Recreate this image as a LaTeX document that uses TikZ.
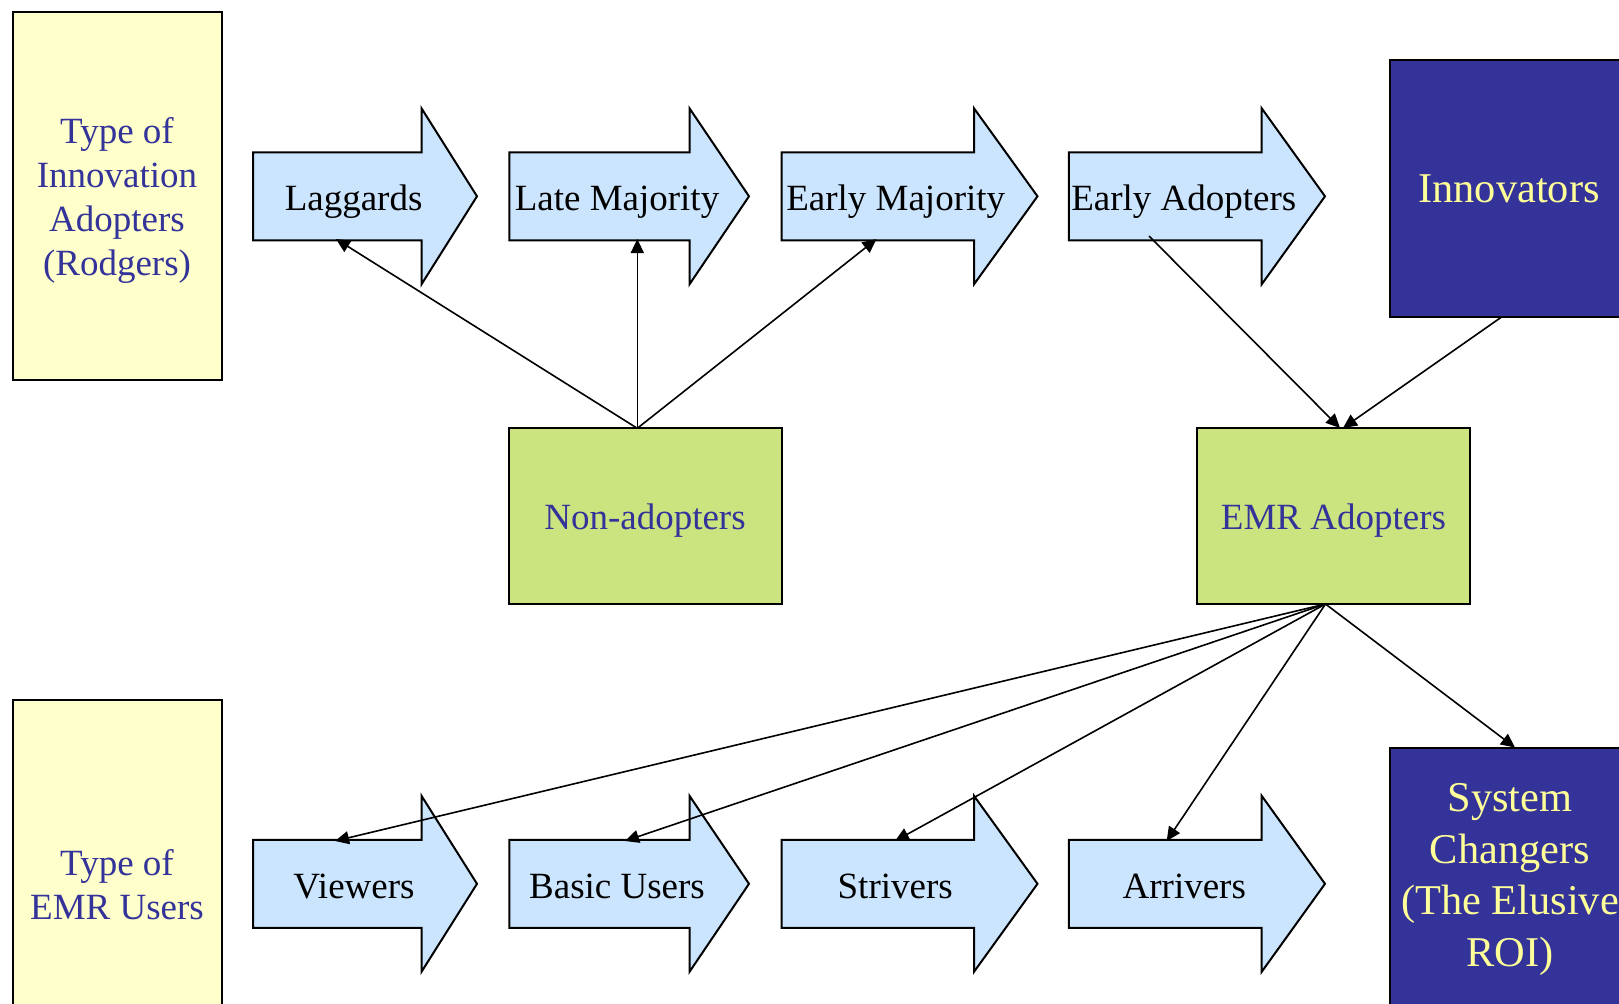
\documentclass[tikz,border=0pt]{standalone}
\usepackage{fontspec}
\setmainfont{Liberation Serif}
\usetikzlibrary{arrows.meta}
\definecolor{boxyellow}{HTML}{FFFFCC}
\definecolor{arrowblue}{HTML}{CCE5FF}
\definecolor{boxgreen}{RGB}{204,228,128}
\definecolor{navy}{HTML}{333399}
\definecolor{paleyellow}{HTML}{FFFF99}
\newcommand\fatarrow[4]{%
  \draw[arrowshape] (#1,#4-44) -- (#2,#4-44) -- (#2,#4-88) -- (#3,#4) -- (#2,#4+88) -- (#2,#4+44) -- (#1,#4+44) -- cycle;}
\tikzset{
  arrowshape/.style={draw=black, fill=arrowblue, line width=1pt, line join=miter},
  boxshape/.style={draw=black, line width=1pt, inner sep=0pt},
  ylwbox/.style={boxshape, fill=boxyellow},
  grnbox/.style={boxshape, fill=boxgreen},
  navybox/.style={boxshape, fill=navy},
  smalltxt/.style={font=\fontsize{18.5}{22}\selectfont, inner sep=0pt},
  bigtxt/.style={font=\fontsize{21.2}{25.75}\selectfont, inner sep=0pt, text=paleyellow},
  lbltxt/.style={smalltxt, text=navy, align=center},
  stagetxt/.style={smalltxt, text=black, anchor=base},
  conn/.style={draw=black, line width=0.8pt, -{Triangle[length=7pt,width=6.5pt]}}
}
\begin{document}
\begin{tikzpicture}[x=0.5pt,y=-0.5pt]
\clip (0,0) rectangle (1619,1003);
\fill[white] (0,0) rectangle (1619,1003);

% side label boxes
\node[ylwbox, minimum width=104.5pt, minimum height=184pt] (lblA) at (117,196.4) {};
\node[lbltxt] (lblAtxt) at (117,200) {Type of\\Innovation\\Adopters\\(Rodgers)};
\node[ylwbox, minimum width=104.5pt, minimum height=185pt] (lblB) at (117,885) {};
\node[lbltxt] (lblBtxt) at (117,884.5) {Type of\\EMR Users};

% top arrows
\fatarrow{253}{421.5}{477}{196.3}
\fatarrow{509.3}{689.5}{749}{196.3}
\fatarrow{781.7}{974}{1037.5}{196.3}
\fatarrow{1068.8}{1261.7}{1325}{196.3}
\node[stagetxt] (lag) at (353.6,210) {Laggards};
\node[stagetxt] (late) at (617,210) {Late Majority};
\node[stagetxt] (emaj) at (895.7,210) {Early Majority};
\node[stagetxt] (eadp) at (1183.8,210) {Early Adopters};

% bottom arrows
\fatarrow{253}{421.5}{477}{883.8}
\fatarrow{509.3}{689.5}{749}{883.8}
\fatarrow{781.7}{974}{1037.5}{883.8}
\fatarrow{1068.8}{1261.7}{1325}{883.8}
\node[stagetxt] (view) at (354,898) {Viewers};
\node[stagetxt] (basic) at (617,898) {Basic Users};
\node[stagetxt] (striv) at (895.2,898) {Strivers};
\node[stagetxt] (arriv) at (1184.3,898) {Arrivers};

% navy boxes
\node[navybox, minimum width=120pt, minimum height=128.35pt] (innov) at (1509.7,188.3) {};
\node[bigtxt, anchor=base] (innovtxt) at (1509,202) {Innovators};
\node[navybox, minimum width=120pt, minimum height=131pt] (sys) at (1509.5,879) {};
\node[bigtxt, align=center] (systxt) at (1510,879.5) {System\\Changers\\(The Elusive\\ROI)};

% green boxes
\node[grnbox, minimum width=136.2pt, minimum height=87.85pt] (non) at (645.5,516.2) {};
\node[smalltxt, text=navy, anchor=base] (nontxt) at (645,529.3) {Non-adopters};
\node[grnbox, minimum width=136.2pt, minimum height=87.85pt] (emr) at (1333.5,516.2) {};
\node[smalltxt, text=navy, anchor=base] (emrtxt) at (1333.5,529.3) {EMR Adopters};

% connector end points
\coordinate (nonTop) at (637.3,428.3);
\coordinate (lagIn) at (336,239);
\coordinate (lateIn) at (637.3,239);
\coordinate (emajIn) at (876.5,239);
\coordinate (eadpOut) at (1149,236);
\coordinate (innovOut) at (1502,316.7);
\coordinate (emrTopA) at (1340,428);
\coordinate (emrTopB) at (1343,428);
\coordinate (emrBot) at (1325.5,604);
\coordinate (viewIn) at (335,841);
\coordinate (basicIn) at (625,841);
\coordinate (strivIn) at (895,841);
\coordinate (arrivIn) at (1166.7,841);
\coordinate (sysIn) at (1515,747.5);

% connectors
\draw[conn] (nonTop) -- (lagIn);
\draw[conn] (nonTop) -- (lateIn);
\draw[conn] (nonTop) -- (emajIn);
\draw[conn] (eadpOut) -- (emrTopA);
\draw[conn] (innovOut) -- (emrTopB);
\draw[conn] (emrBot) -- (viewIn);
\draw[conn] (emrBot) -- (basicIn);
\draw[conn] (emrBot) -- (strivIn);
\draw[conn] (emrBot) -- (arrivIn);
\draw[conn] (emrBot) -- (sysIn);
\end{tikzpicture}
\end{document}
